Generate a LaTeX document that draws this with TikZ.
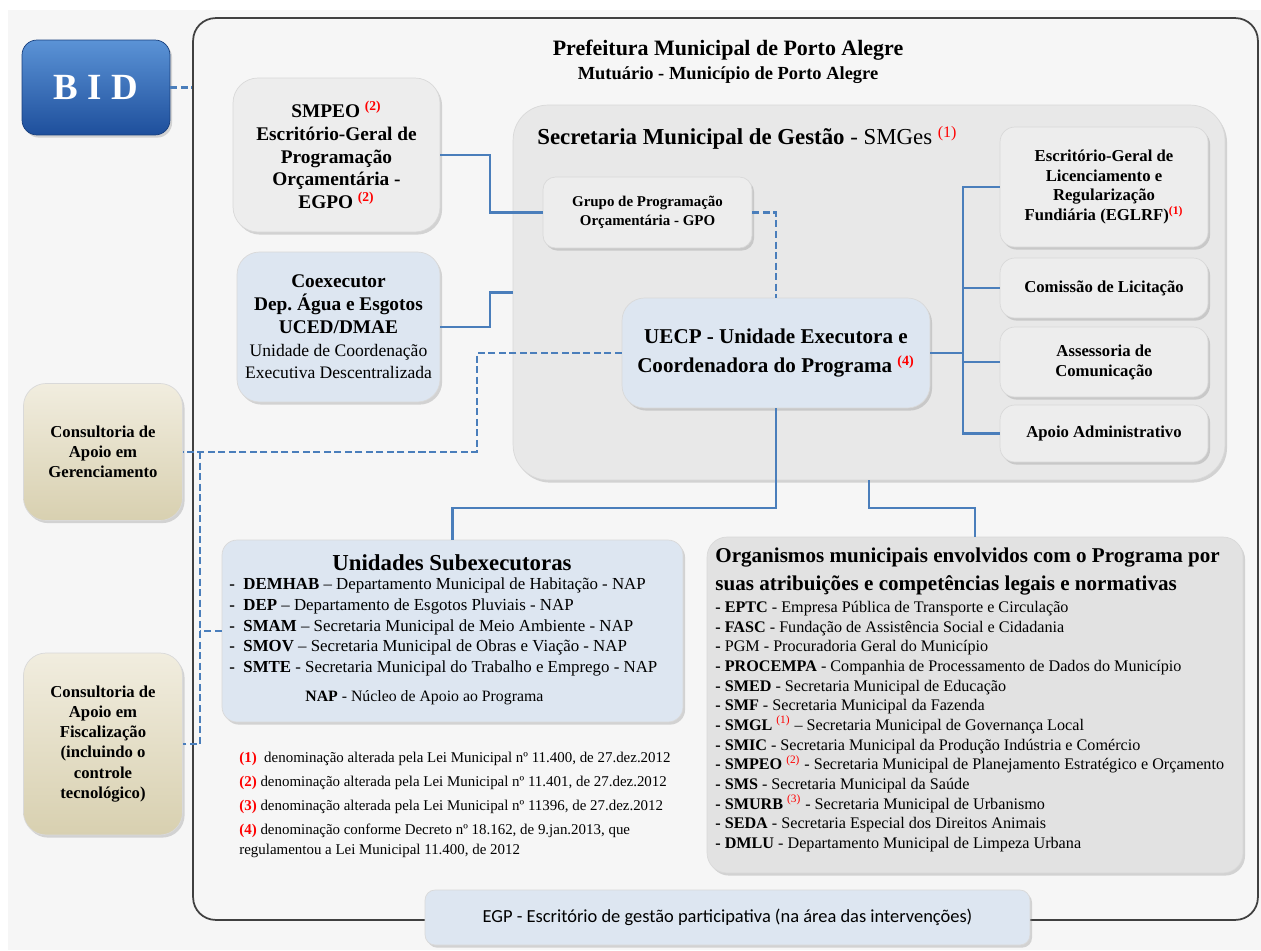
\documentclass[tikz,border=0pt]{standalone}
\usepackage{fontspec}
\setmainfont{Liberation Serif}
\newfontfamily\egpfont{Carlito}
\usepackage{tikz}
\usetikzlibrary{shadows}
\definecolor{conblue}{HTML}{4A7EBB}
\definecolor{boxgray}{HTML}{EDEDED}
\definecolor{smgray}{HTML}{E8E8E8}
\definecolor{boxblue}{HTML}{DDE6F1}
\definecolor{orggray}{HTML}{E2E2E2}
\definecolor{bggray}{HTML}{F6F6F6}
\definecolor{beigetop}{HTML}{F1EDDF}
\definecolor{beigebot}{HTML}{D8D0B0}
\definecolor{bidtop}{HTML}{5B93D6}
\definecolor{bidbot}{HTML}{1E4F9C}
\newcommand{\refn}[1]{\textsuperscript{\textcolor{red}{(#1)}}}
\newcommand{\fs}[2]{\fontsize{#1}{#2}\selectfont}
\tikzset{
  unitbox/.style={rectangle, rounded corners=0.3cm, draw=gray!30, align=center, inner sep=2pt,
    drop shadow={opacity=0.3, shadow xshift=1.2pt, shadow yshift=-1.5pt}},
  graybox/.style={unitbox, fill=boxgray},
  bluebox/.style={unitbox, fill=boxblue},
  beigebox/.style={unitbox, rounded corners=0.45cm, top color=beigetop, bottom color=beigebot,
    font=\bfseries\fs{9.5}{11.4}},
  rightbox/.style={graybox, minimum width=4.16cm, font=\bfseries\fs{9.5}{11.3}},
  con/.style={draw=conblue, line width=1.3pt},
  dashcon/.style={con, dash pattern=on 4pt off 2pt},
  txt/.style={inner sep=0pt, align=left},
}

\begin{document}
\begin{tikzpicture}[x=0.02cm, y=-0.02cm]
\useasboundingbox (0,0) rectangle (1261,950);
\fill[bggray] (8,10) rectangle (1261,950);

\node[draw=black!75, line width=1pt, rounded corners=0.45cm, minimum width=21.3cm, minimum height=18.04cm, inner sep=0] (prefeitura) at (725.5,469) {};
\node[font=\bfseries\fs{12.5}{15}] (titulo) at (728,50) {Prefeitura Municipal de Porto Alegre};
\node[font=\bfseries\fs{10.5}{13}] (mutuario) at (728,75) {Mutuário - Município de Porto Alegre};

\node[unitbox, draw=bidbot!80!black, top color=bidtop, bottom color=bidbot, minimum width=2.96cm, minimum height=1.9cm, text=white, font=\bfseries\fs{21}{24}] (bid) at (96,87.5) {B I D};

\node[graybox, rounded corners=0.5cm, minimum width=4.14cm, minimum height=3.08cm, font=\bfseries\fs{11}{13}] (smpeo) at (336.5,155) {SMPEO \refn{2}\\Escritório-Geral de\\Programação\\Orçamentária -\\EGPO \refn{2}};
\node[bluebox, rounded corners=0.45cm, minimum width=4.06cm, minimum height=3cm, font=\fs{11}{13}] (coex) at (338.5,327) {\textbf{Coexecutor}\\\textbf{Dep.\ Água e Esgotos}\\\textbf{UCED/DMAE}\\{\fs{10}{12}Unidade de Coordenação}\\{\fs{10}{12}Executiva Descentralizada}};

\node[graybox, fill=smgray, rounded corners=0.7cm, minimum width=14.24cm, minimum height=7.5cm] (smges) at (869,292.5) {};
\node[txt, anchor=west, font=\fs{13}{15}] (smgestit) at (537,138) {\textbf{Secretaria Municipal de Gestão} - SMGes \refn{1}};
\node[graybox, rounded corners=0.25cm, minimum width=4.18cm, minimum height=1.42cm, font=\bfseries\fs{8.5}{10.8}] (gpo) at (647.5,212.5) {Grupo de Programação\\Orçamentária - GPO};
\node[bluebox, rounded corners=0.45cm, minimum width=6.16cm, minimum height=2.2cm, font=\bfseries\fs{12}{17}] (uecp) at (776,353) {UECP - Unidade Executora e\\Coordenadora do Programa \refn{4}};
\node[rightbox, minimum height=2.4cm] (eglrf) at (1104,187) {Escritório-Geral de\\Licenciamento e\\Regularização\\Fundiária (EGLRF)\refn{1}};
\node[rightbox, minimum height=1.2cm] (comissao) at (1104,288) {Comissão de Licitação};
\node[rightbox, minimum height=1.4cm] (assessoria) at (1104,362) {Assessoria de\\Comunicação};
\node[rightbox, minimum height=1.14cm] (apoio) at (1104,433.5) {Apoio Administrativo};

\node[beigebox, minimum width=3.18cm, minimum height=2.74cm] (cger) at (103,452) {Consultoria de\\Apoio em\\Gerenciamento};
\node[beigebox, minimum width=3.18cm, minimum height=3.64cm] (cfis) at (103,744) {Consultoria de\\Apoio em\\Fiscalização\\(incluindo o\\controle\\tecnológico)};

\node[bluebox, minimum width=9.22cm, minimum height=3.64cm] (unid) at (452.5,631) {};
\node[font=\bfseries\fs{13}{15}] (unidtit) at (452,563) {Unidades Subexecutoras};
\node[txt, anchor=west, font=\fs{9.6}{11.9}] (unidlista) at (229,627) {\textbf{-\ \ DEMHAB} – Departamento Municipal de Habitação - NAP\\
\textbf{-\ \ DEP} – Departamento de Esgotos Pluviais - NAP\\
\textbf{-\ \ SMAM} – Secretaria Municipal de Meio Ambiente - NAP\\
\textbf{-\ \ SMOV} – Secretaria Municipal de Obras e Viação - NAP\\
\textbf{-\ \ SMTE} - Secretaria Municipal do Trabalho e Emprego - NAP};
\node[txt, anchor=west, font=\fs{9}{11}] (nap) at (305,698) {\textbf{NAP} - Núcleo de Apoio ao Programa};

\node[graybox, fill=orggray, rounded corners=0.4cm, minimum width=10.72cm, minimum height=6.72cm] (org) at (975,705) {};
\node[txt, anchor=west, font=\bfseries\fs{12}{16.4}] (orgtit) at (715,571.5) {Organismos municipais envolvidos com o Programa por\\suas atribuições e competências legais e normativas};
\node[txt, anchor=west, font=\fs{9.2}{11.2}] (orglista) at (715,726.5) {\textbf{-\ EPTC} - Empresa Pública de Transporte e Circulação\\
\textbf{-\ FASC} - Fundação de Assistência Social e Cidadania\\
\textbf{-} PGM - Procuradoria Geral do Município\\
\textbf{-\ PROCEMPA} - Companhia de Processamento de Dados do Município\\
\textbf{-\ SMED} - Secretaria Municipal de Educação\\
\textbf{-\ SMF} - Secretaria Municipal da Fazenda\\
\textbf{-\ SMGL} \refn{1} – Secretaria Municipal de Governança Local\\
\textbf{-\ SMIC} - Secretaria Municipal da Produção Indústria e Comércio\\
\textbf{-\ SMPEO} \refn{2} - Secretaria Municipal de Planejamento Estratégico e Orçamento\\
\textbf{-\ SMS} - Secretaria Municipal da Saúde\\
\textbf{-\ SMURB} \refn{3} - Secretaria Municipal de Urbanismo\\
\textbf{-\ SEDA} - Secretaria Especial dos Direitos Animais\\
\textbf{-\ DMLU} - Departamento Municipal de Limpeza Urbana};

\node[txt, anchor=west, font=\fs{8.5}{13.6}] (notas) at (239,805) {\textcolor{red}{\textbf{(1)}}\ \ denominação alterada pela Lei Municipal nº 11.400, de 27.dez.2012\\
\textcolor{red}{\textbf{(2)}} denominação alterada pela Lei Municipal nº 11.401, de 27.dez.2012\\
\textcolor{red}{\textbf{(3)}} denominação alterada pela Lei Municipal nº 11396, de 27.dez.2012\\
\textcolor{red}{\textbf{(4)}} denominação conforme Decreto nº 18.162, de 9.jan.2013, que\\[-2.5pt]
regulamentou a Lei Municipal 11.400, de 2012};

\node[bluebox, rounded corners=0.2cm, minimum width=12.1cm, minimum height=1.1cm, font=\egpfont\fs{10.5}{13}] (egp) at (727.5,917.5) {EGP - Escritório de gestão participativa (na área das intervenções)};

\draw[dashcon] (bid.east) -- (bid.east -| prefeitura.west);
\draw[con] (smpeo.east) -- ++(50,0) |- (gpo.west);
\draw[dashcon] (gpo.east) -| (uecp.north);
\draw[con] (coex.east) -- ++(50,0) |- (smges.west);
\coordinate (dbus) at (200,452);
\draw[dashcon] (uecp.west) -- ++(-145,0) |- (cger.east);
\draw[dashcon] (dbus) |- (cfis.east);
\draw[dashcon] (unid.west) -- (unid.west -| dbus);
\coordinate (sbus) at (963,353);
\draw[con] (uecp.east) -- (sbus);
\draw[con] (eglrf.west) -| (sbus) |- (apoio.west);
\draw[con] (comissao.west) -- (comissao.west -| sbus);
\draw[con] (assessoria.west) -- (assessoria.west -| sbus);
\draw[con] (uecp.south) -- ++(0,100) -| (unid.north);
\draw[con] (smges.south) -- ++(0,28) -| (org.north);
\end{tikzpicture}
\end{document}
